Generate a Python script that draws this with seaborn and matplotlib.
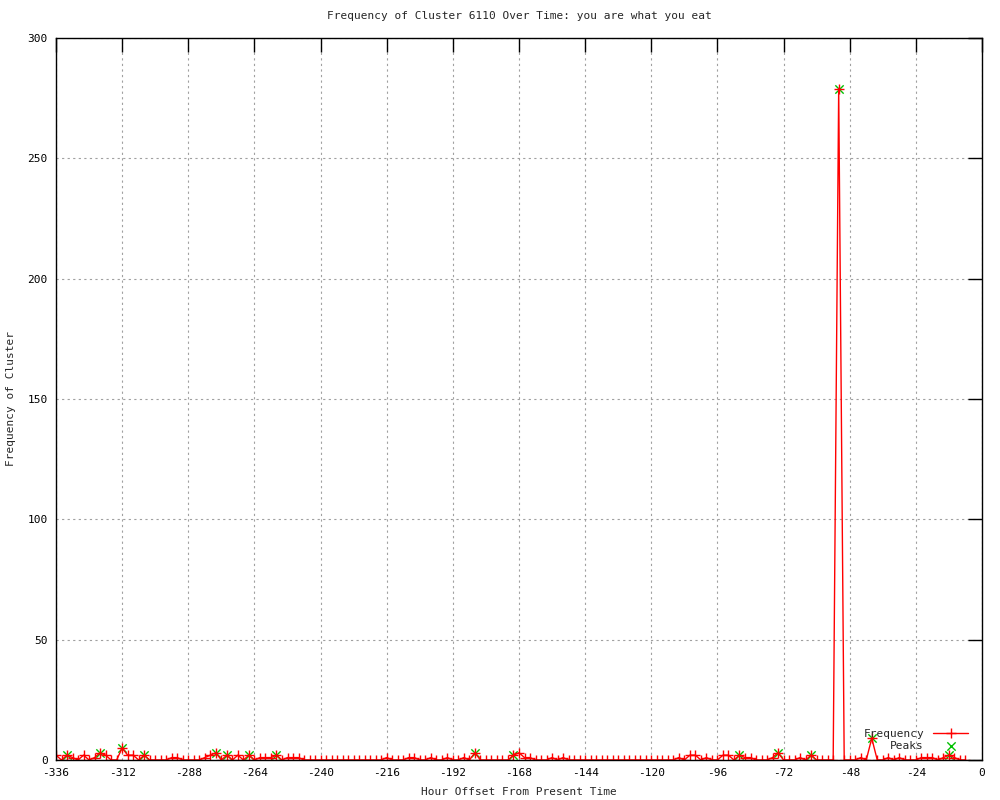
import numpy as np
import pandas as pd
import seaborn as sns
import matplotlib.pyplot as plt

TITLE = "Frequency of Cluster 6110 Over Time: you are what you eat"

# hourly offsets, one sample every two hours
hours = list(range(-336, -4, 2))
freq = [
    2, 0, 2, 1, 0, 2, 0, 1, 3, 2, 0, 0,          # -336 .. -314
    5, 2, 2, 0, 2, 0, 0, 0, 0, 1, 1, 0,          # -312 .. -290
    0, 0, 0, 1, 2, 3, 0, 2, 0, 2, 0, 2,          # -288 .. -266
    0, 1, 1, 1, 2, 0, 1, 1, 1, 0, 0, 0,          # -264 .. -242
    0, 0, 0, 0, 0, 0, 0, 0, 0, 0, 0, 0,          # -240 .. -218
    1, 0, 0, 0, 1, 1, 0, 0, 1, 0, 0, 1,          # -216 .. -194
    0, 0, 1, 0, 3, 0, 0, 0, 0, 0, 0, 2,          # -192 .. -170
    3, 1, 1, 0, 0, 0, 1, 0, 1, 0, 0, 0,          # -168 .. -146
    0, 0, 0, 0, 0, 0, 0, 0, 0, 0, 0, 0,          # -144 .. -122
    0, 0, 0, 0, 0, 1, 0, 2, 2, 0, 1, 0,          # -120 .. -98
    0, 2, 2, 0, 2, 1, 1, 0, 0, 0, 1, 3,          # -96 .. -74
    0, 0, 0, 1, 0, 2, 0, 0, 0, 0, 279, 0,        # -72 .. -50
    0, 0, 1, 0, 9, 0, 0, 1, 0, 1, 0, 0,          # -48 .. -26
    0, 1, 1, 1, 0, 1, 2, 1, 0, 0,                # -24 .. -6
]

peak_hours = [-332, -320, -312, -304, -278, -274, -266, -256,
              -184, -170, -88, -74, -62, -52, -40, -12]
peak_vals = [2, 3, 5, 2, 3, 2, 2, 2, 3, 2, 2, 3, 2, 279, 9, 2]

x_ticks = list(range(-336, 1, 24))
y_ticks = [0, 50, 100, 150, 200, 250, 300]

sns.set_style("white")
plt.rcParams["font.family"] = ["DejaVu Sans Mono"]
plt.rcParams["font.size"] = 8
plt.rcParams["axes.unicode_minus"] = False

fig = plt.figure(figsize=(10, 8), dpi=100)
ax = fig.add_axes([0.056, 0.05, 0.926, 0.9025])

sns.scatterplot(x=peak_hours, y=peak_vals, ax=ax, marker="x", color="#00c000",
                s=36, linewidth=1, label="Peaks", zorder=1)
sns.lineplot(x=hours, y=freq, ax=ax, color="red", marker="+", markersize=7,
             markeredgewidth=1, markeredgecolor="red", linewidth=1,
             label="Frequency", zorder=2)

ax.set_xlim(-336, 0)
ax.set_ylim(0, 300)
ax.set_xticks(x_ticks)
ax.set_yticks(y_ticks)
ax.grid(True, color="#a0a0a0", linestyle=(0, (2, 3)), linewidth=0.8)
ax.set_axisbelow(True)
for s in ax.spines.values():
    s.set_color("black")
    s.set_linewidth(1)
ax.tick_params(direction="in", top=True, right=True, length=10, width=1,
               colors="black", labelsize=8, pad=6)

ax.set_title(TITLE, fontsize=8, pad=14)
ax.set_xlabel("Hour Offset From Present Time", fontsize=8, labelpad=6)
ax.set_ylabel("Frequency of Cluster", fontsize=8, labelpad=8)

h, l = ax.get_legend_handles_labels()
order = [l.index("Frequency"), l.index("Peaks")]
ax.legend([h[i] for i in order], [l[i] for i in order], loc="lower right",
          bbox_to_anchor=(0.995, 0.0), frameon=False, markerfirst=False,
          handlelength=3.2, labelspacing=0.2, borderpad=0.3, fontsize=8)

plt.savefig("out.png", dpi=100)
plt.close()
